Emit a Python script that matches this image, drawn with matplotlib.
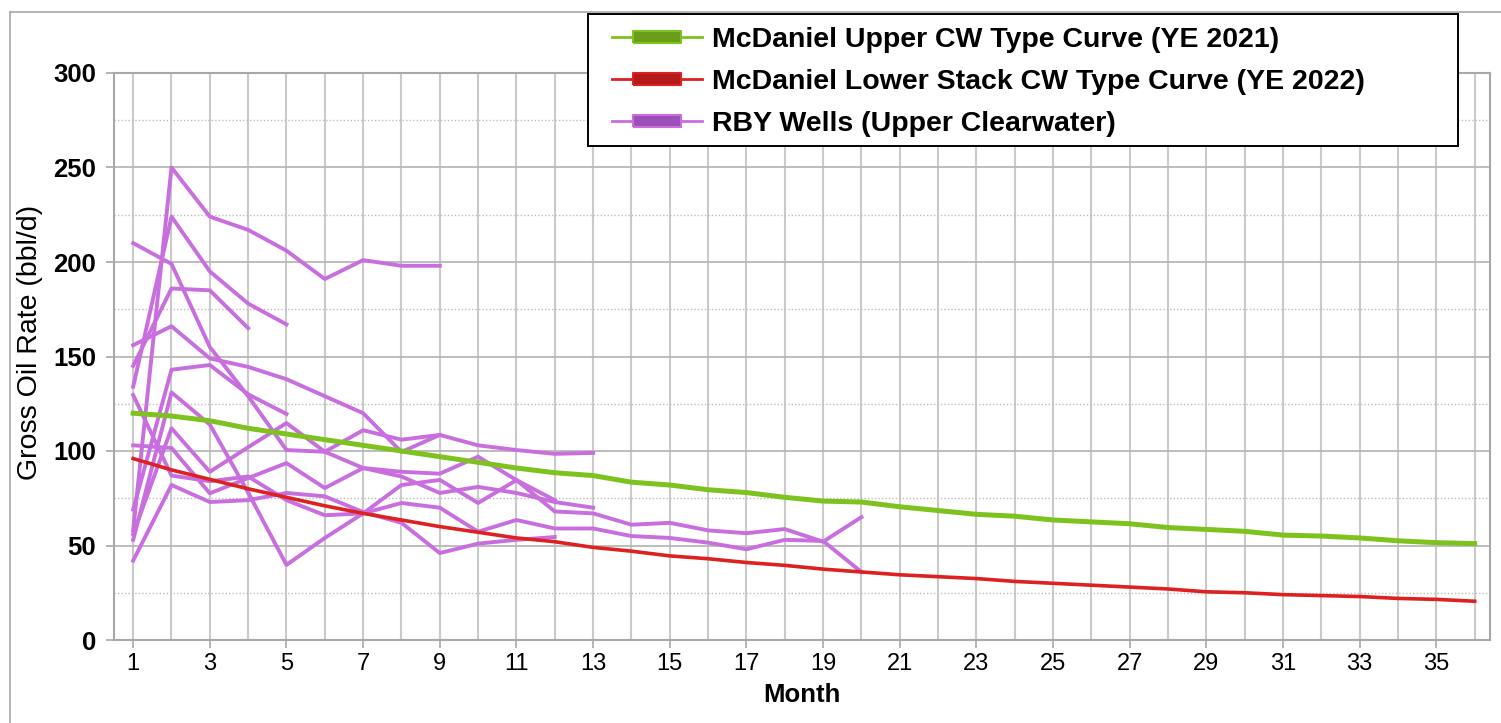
import matplotlib
matplotlib.use("Agg")
from matplotlib import pyplot as plt
from matplotlib.lines import Line2D
from matplotlib.patches import Rectangle
from matplotlib.ticker import MultipleLocator, FixedLocator

# type curves, months 1..36
months = list(range(1, 37))
upper_cw = [120, 118.5, 116, 112, 109, 106, 103, 100, 97, 94, 91, 88.5,
            87, 83.5, 82, 79.5, 78, 75.5, 73.5, 73, 70.5, 68.5, 66.5, 65.5,
            63.5, 62.5, 61.5, 59.5, 58.5, 57.5, 55.5, 55, 54, 52.5, 51.5, 51]
lower_stack = [96, 90, 85, 80, 75.5, 71, 67, 63.5, 60, 57, 54, 52,
               49, 47, 44.5, 43, 41, 39.5, 37.5, 36, 34.5, 33.5, 32.5, 31,
               30, 29, 28, 27, 25.5, 25, 24, 23.5, 23, 22, 21.5, 20.5]

# RBY wells (Upper Clearwater), each starting at month 1
well_a = [58, 250, 224, 217, 206, 191, 201, 198, 198]
well_b = [134, 224, 195, 178, 167]
well_c = [145, 186, 185, 165]
well_d = [210, 199, 155, 129, 100.5, 99.6, 111, 106, 108.5]
well_e = [156, 166, 149, 144.5, 138, 129, 120, 99.5, 108.5, 103, 100.5, 98.5, 99]
well_f = [69, 143, 145.5, 130, 119.6]
well_g = [53, 131, 114, 78, 39.7, 54, 67, 82, 84.7, 72.5, 84.6, 74]
well_h = [56, 112, 89, 102, 114.8, 99.6, 91, 86.5, 77.8, 81, 77.8, 73, 70]
well_i = [103, 101.6, 77.6, 85.7, 93.6, 80.4, 91, 89, 88, 97, 84.6, 68, 67,
          61, 62, 58, 56.5, 58.7, 52, 65]
well_j = [129.6, 87, 84, 86.5, 74, 66, 67, 72.5, 70, 57.3, 63.5, 59, 59,
          55, 54, 51.5, 48, 53, 52.4, 36]
well_k = [42, 82, 73, 74, 77.8, 76, 67.7, 62, 46, 51, 53, 54.5]
wells = [well_a, well_b, well_c, well_d, well_e, well_f, well_g,
         well_h, well_i, well_j, well_k]

purple = '#C86EDE'
green = '#7DC21E'
red = '#DD2020'

fig = plt.figure(figsize=(15.01, 7.23), dpi=100)
W, H = 1501, 723
ax = fig.add_axes([114/W, 1-640/H, (1490-114)/W, (640-73)/H])

for w in wells:
    ax.plot(range(1, len(w)+1), w, color=purple, lw=2.8, zorder=3)
ax.plot(months, upper_cw, color=green, lw=3.6, zorder=4)
ax.plot(months, lower_stack, color=red, lw=2.6, zorder=4)

ax.set_xlim(0.5, 36.4)
ax.set_ylim(0, 300)
ax.xaxis.set_major_locator(FixedLocator(range(1, 36, 2)))
ax.xaxis.set_minor_locator(FixedLocator(range(2, 37, 2)))
ax.yaxis.set_major_locator(MultipleLocator(50))
ax.yaxis.set_minor_locator(MultipleLocator(25))
ax.grid(True, axis='x', which='both', color='#CACACA', lw=1.5)
ax.grid(True, axis='y', which='major', color='#B8B8B8', lw=1.3)
ax.grid(True, axis='y', which='minor', color='#BDBDBD', lw=1.0, ls=(0, (1, 1.5)))
ax.set_axisbelow(True)
for s in ax.spines.values():
    s.set_color('#A8A8A8')
    s.set_linewidth(1.5)
ax.tick_params(axis='both', which='major', color='#A8A8A8', length=6, width=1.2)
ax.tick_params(axis='both', which='minor', length=0)
ax.tick_params(axis='y', labelsize=18.5, pad=7)
ax.tick_params(axis='x', labelsize=17, pad=3)
for t in ax.get_yticklabels():
    t.set_fontweight('bold')
    t.set_family('Liberation Sans')
for t in ax.get_xticklabels():
    t.set_family('Liberation Sans')

ax.set_xlabel('Month', fontsize=18.5, fontweight='bold', family='Liberation Sans',
              labelpad=6)
ax.set_ylabel('Gross Oil Rate (bbl/d)', fontsize=20.5, family='Liberation Sans')
ax.yaxis.set_label_coords((43-114)/1376, (640-342)/567)

# outer frame (left and top edges visible)
fig.add_artist(Line2D([10/W, 10/W], [0, 1-12/H], transform=fig.transFigure,
                      color='#A8A8A8', lw=1.2))
fig.add_artist(Line2D([10/W, 1], [1-12/H, 1-12/H], transform=fig.transFigure,
                      color='#A8A8A8', lw=1.2))

# legend box
fig.add_artist(Rectangle((588/W, 1-146/H), (1458-588)/W, (146-14)/H,
                         transform=fig.transFigure, facecolor='white',
                         edgecolor='black', lw=1.4, zorder=8))

bar = [(-3, -0.7), (3, -0.7), (3, 0.7), (-3, 0.7), (-3, -0.7)]
handles = [
    Line2D([], [], color=green, lw=2, marker=bar, markersize=34,
           markerfacecolor='#6A9E1A', markeredgecolor=green, mew=1.5),
    Line2D([], [], color=red, lw=2, marker=bar, markersize=34,
           markerfacecolor='#B51A1A', markeredgecolor=red, mew=1.5),
    Line2D([], [], color=purple, lw=2, marker=bar, markersize=34,
           markerfacecolor='#9E4EB8', markeredgecolor=purple, mew=1.5),
]
labels = ['McDaniel Upper CW Type Curve (YE 2021)',
          'McDaniel Lower Stack CW Type Curve (YE 2022)',
          'RBY Wells (Upper Clearwater)']
leg = fig.legend(handles, labels, loc='upper left',
                 bbox_to_anchor=(612/W, 1-27/H), frameon=False,
                 numpoints=1, handlelength=3.15,
                 handletextpad=0.35, labelspacing=0.56, borderpad=0,
                 borderaxespad=0,
                 prop={'family': 'Liberation Sans', 'weight': 'bold', 'size': 20.5})
leg.set_zorder(10)

fig.savefig('out.png', dpi=100)
